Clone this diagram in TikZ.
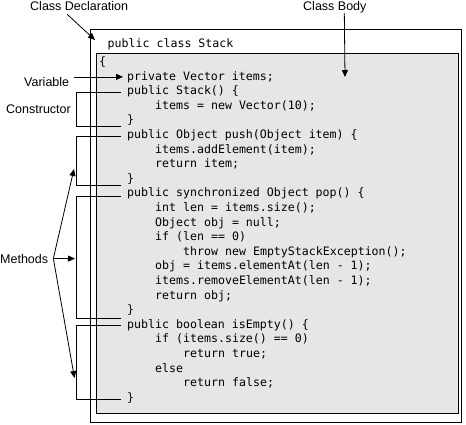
\documentclass[tikz,border=0pt]{standalone}
\usepackage{fontspec}
\setsansfont{Liberation Sans}
\setmonofont{DejaVu Sans Mono}
\usetikzlibrary{arrows.meta}
\definecolor{Panel}{HTML}{E6E6E6}
\definecolor{Ink}{HTML}{000000}
\tikzset{frame/.style={draw=Ink,line width=1pt},codeline/.style={anchor=base west,inner sep=0pt,text=Ink,font=\ttfamily\fontsize{11.6}{14}\selectfont},callname/.style={anchor=base west,inner sep=0pt,text=Ink,font=\sffamily\fontsize{12.5}{14}\selectfont},pointer/.style={draw=Ink,line width=0.8pt,-{Triangle[length=7pt,width=6pt]}},bracket/.style={draw=Ink,line width=1pt}}

\begin{document}
\begin{tikzpicture}[x=1pt,y=-1pt]
\useasboundingbox (0,0) rectangle (466,424);
\draw[frame] (90.5,29.5) rectangle (461.5,422.5);
\draw[frame,fill=Panel] (96.5,53.5) rectangle (458.5,413.5);
\node[codeline] (decl) at (107.5,47) {public class Stack};
\foreach \n/\k/\t in {0/0/\{,1/1/private Vector items;,2/1/public Stack() \{,3/2/items = new Vector(10);,4/1/\},
  5/1/public Object push(Object item) \{,6/2/items.addElement(item);,7/2/return item;,8/1/\},
  9/1/public synchronized Object pop() \{,10/2/int len = items.size();,11/2/Object obj = null;,12/2/if (len == 0),
  13/3/throw new EmptyStackException();,14/2/obj = items.elementAt(len - 1);,15/2/items.removeElementAt(len - 1);,16/2/return obj;,17/1/\},
  18/1/public boolean isEmpty() \{,19/2/if (items.size() == 0),20/3/return true;,21/2/else,22/3/return false;,23/1/\}}
  \node[codeline] (l\n) at ({99+28*\k},{65.5+14.6*\n}) {\t};
\node[callname] (cdecl) at (30,10) {Class Declaration};
\node[callname] (cbody) at (303,10) {Class Body};
\node[callname] (var) at (24,86) {Variable};
\node[callname] (ctor) at (6,113) {Constructor};
\node[callname] (meth) at (0,263) {Methods};
\coordinate (decltip) at (95,40);
\coordinate (bodytip) at (345,77);
\coordinate (pushtip) at (74,169);
\coordinate (poptip) at (75,258.6);
\coordinate (emptytip) at (74.5,378);
\draw[pointer] ([shift={(-12pt,-4pt)}]cdecl.south) -- (decltip);
\draw[pointer] ([xshift=9.5pt]cbody.south) -- (bodytip);
\draw[pointer,shorten <=5pt,shorten >=4pt] (var.east |- l1.west) -- (l1.west);
\draw[bracket] ([shift={(-6pt,-1pt)}]l2.west) -- ++(-45,0) |- ([shift={(-6pt,-6pt)}]l4.west);
\draw[bracket] ([shift={(-6pt,-1pt)}]l5.west) -- ++(-45,0) |- ([shift={(-6pt,-7pt)}]l8.west);
\draw[bracket] ([shift={(-6pt,-3pt)}]l9.west) -- ++(-45,0) |- ([shift={(-6pt,-8pt)}]l17.west);
\draw[bracket] ([xshift=-6pt]l18.west) -- ++(-45,0) |- ([shift={(-6pt,-1.5pt)}]l23.west);
\draw[pointer] ([xshift=5pt]meth.east) -- (pushtip);
\draw[pointer] ([xshift=5pt]meth.east) -- (poptip);
\draw[pointer] ([xshift=5pt]meth.east) -- (emptytip);
\end{tikzpicture}
\end{document}
